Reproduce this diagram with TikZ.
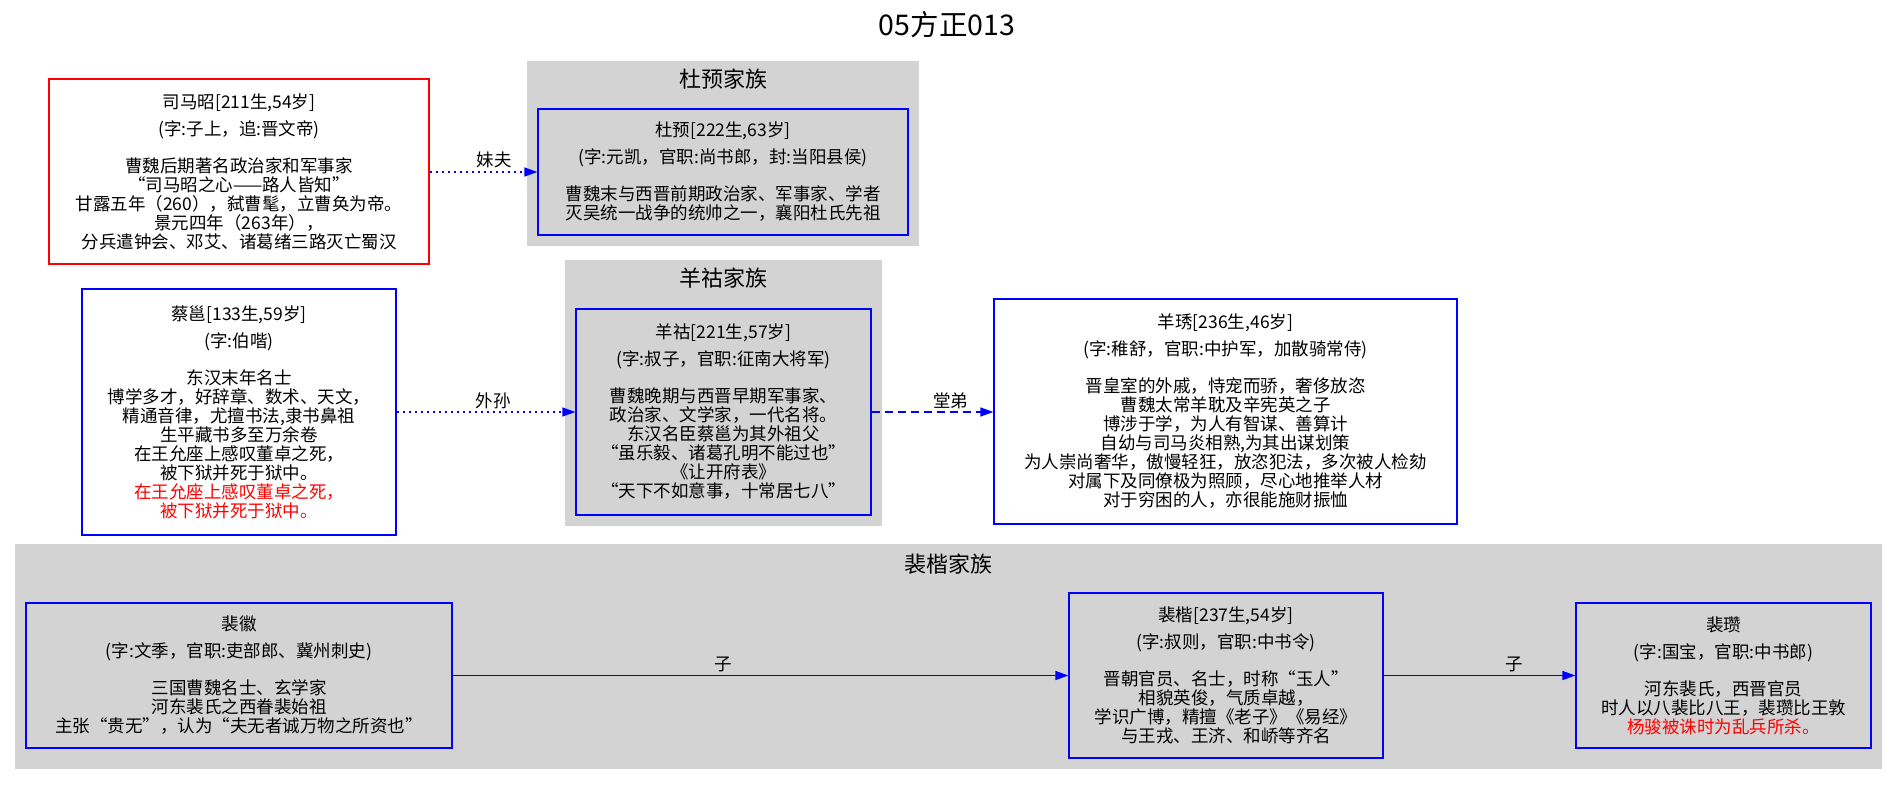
\documentclass[tikz,border=0pt]{standalone}
\usepackage{fontspec}
\setmainfont{Noto Sans CJK SC}
\usetikzlibrary{arrows.meta}
\definecolor{clgrey}{HTML}{D3D3D3}
\tikzset{
  person/.style={draw=blue, line width=1.2pt, align=center, inner sep=0pt,
    font=\fontsize{17.5}{19}\selectfont},
  redbox/.style={person, draw=red},
  whitebox/.style={fill=white},
  clusterbox/.style={fill=clgrey, draw=none, inner sep=0pt},
  ctitle/.style={font=\fontsize{22}{26}\selectfont, inner sep=0pt},
  rel/.style={draw=blue, line width=1.2pt, -{Triangle[length=13pt,width=9pt]}},
  dottedrel/.style={rel, dash pattern=on 2pt off 4pt},
  dashedrel/.style={rel, dash pattern=on 8pt off 5pt},
  rlabel/.style={font=\fontsize{17.5}{19}\selectfont, above, inner sep=3pt}
}
\begin{document}
\begin{tikzpicture}[x=1pt,y=-1pt]
\useasboundingbox[fill=white] (0,0) rectangle (1897,785);
% title
\node[font=\fontsize{28.5}{31}\selectfont, inner sep=0pt] (title) at (947,25) {05方正013};
% clusters
\node[clusterbox, minimum width=392pt, minimum height=185pt] (dycl) at (723,153.5) {};
\node[ctitle] (dyt) at (723,79) {杜预家族};
\node[clusterbox, minimum width=317pt, minimum height=266pt] (yhcl) at (723.5,393) {};
\node[ctitle] (yht) at (723.5,278) {羊祜家族};
\node[clusterbox, minimum width=1867pt, minimum height=225pt] (pkcl) at (948.5,656.5) {};
\node[ctitle] (pkt) at (948.5,564) {裴楷家族};
% nodes
\node[redbox, whitebox, minimum width=380pt, minimum height=185pt] (smz) at (239,171.5)
 {司马昭[211生,54岁]\\[8pt]
  (字:子上，追:晋文帝)\\[18pt]
  曹魏后期著名政治家和军事家\\
  “司马昭之心——路人皆知”\\
  甘露五年（260），弑曹髦，立曹奂为帝。\\
  景元四年（263年），\\
  分兵遣钟会、邓艾、诸葛绪三路灭亡蜀汉};
\node[person, minimum width=370pt, minimum height=126pt] (duyu) at (723,172)
 {杜预[222生,63岁]\\[8pt]
  (字:元凯，官职:尚书郎，封:当阳县侯)\\[18pt]
  曹魏末与西晋前期政治家、军事家、学者\\
  灭吴统一战争的统帅之一，襄阳杜氏先祖};
\node[person, whitebox, minimum width=314pt, minimum height=246pt] (cy) at (239,412)
 {蔡邕[133生,59岁]\\[8pt]
  (字:伯喈)\\[18pt]
  东汉末年名士\\
  博学多才，好辞章、数术、天文，\\
  精通音律，尤擅书法,隶书鼻祖\\
  生平藏书多至万余卷\\
  在王允座上感叹董卓之死，\\
  被下狱并死于狱中。\\
  \textcolor{red}{在王允座上感叹董卓之死，}\\
  \textcolor{red}{被下狱并死于狱中。}};
\node[person, minimum width=295pt, minimum height=206pt] (yh) at (723.5,412)
 {羊祜[221生,57岁]\\[8pt]
  (字:叔子，官职:征南大将军)\\[18pt]
  曹魏晚期与西晋早期军事家、\\
  政治家、文学家，一代名将。\\
  东汉名臣蔡邕为其外祖父\\
  “虽乐毅、诸葛孔明不能过也”\\
  《让开府表》\\
  “天下不如意事，十常居七八”};
\node[person, whitebox, minimum width=463pt, minimum height=225pt] (yx) at (1225.5,411.5)
 {羊琇[236生,46岁]\\[8pt]
  (字:稚舒，官职:中护军，加散骑常侍)\\[18pt]
  晋皇室的外戚，恃宠而骄，奢侈放恣\\
  曹魏太常羊耽及辛宪英之子\\
  博涉于学，为人有智谋、善算计\\
  自幼与司马炎相熟,为其出谋划策\\
  为人崇尚奢华，傲慢轻狂，放恣犯法，多次被人检劾\\
  对属下及同僚极为照顾，尽心地推举人材\\
  对于穷困的人，亦很能施财振恤};
\node[person, minimum width=426pt, minimum height=145pt] (ph) at (239,675.5)
 {裴徽\\[8pt]
  (字:文季，官职:吏部郎、冀州刺史)\\[18pt]
  三国曹魏名士、玄学家\\
  河东裴氏之西眷裴始祖\\
  主张“贵无”，认为“夫无者诚万物之所资也”};
\node[person, minimum width=314pt, minimum height=165pt] (pk) at (1226,675.5)
 {裴楷[237生,54岁]\\[8pt]
  (字:叔则，官职:中书令)\\[18pt]
  晋朝官员、名士，时称“玉人”\\
  相貌英俊，气质卓越，\\
  学识广博，精擅《老子》《易经》\\
  与王戎、王济、和峤等齐名};
\node[person, minimum width=295pt, minimum height=145pt] (pz) at (1723.5,675.5)
 {裴瓒\\[8pt]
  (字:国宝，官职:中书郎)\\[18pt]
  河东裴氏，西晋官员\\
  时人以八裴比八王，裴瓒比王敦\\
  \textcolor{red}{杨骏被诛时为乱兵所杀。}};
% connectors
\draw[dottedrel] (smz.east |- duyu.west) -- node[rlabel, pos=0.6] {妹夫} (duyu.west);
\draw[dottedrel] (cy.east |- yh.west) -- node[rlabel, pos=0.54] {外孙} (yh.west);
\draw[dashedrel] (yh.east) -- node[rlabel, pos=0.65] {堂弟} (yh.east -| yx.west);
\draw[rel] (ph.east) -- node[rlabel, pos=0.44] {子} (pk.west);
\draw[rel] (pk.east) -- node[rlabel, pos=0.68] {子} (pz.west);
\end{tikzpicture}
\end{document}
